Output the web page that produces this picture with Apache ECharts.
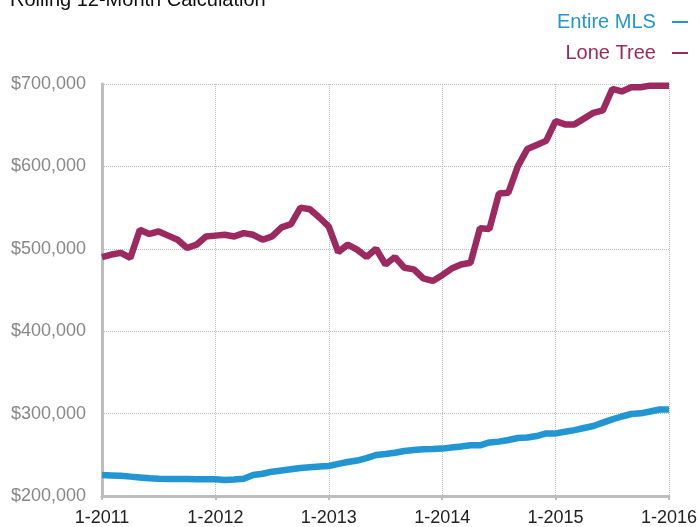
<!DOCTYPE html>
<html>
<head>
<meta charset="utf-8">
<script src="https://cdn.jsdelivr.net/npm/echarts@6/dist/echarts.min.js"></script>
<style>
  html, body { margin: 0; padding: 0; background: #fff; }
  #chart { width: 700px; height: 527px; }
</style>
</head>
<body>
<div id="chart"></div>
<script>
// Month labels Jan 2011 .. Jan 2016
const months = []
for (let y = 2011; y <= 2016; y++) {
  for (let m = 1; m <= 12; m++) {
    if (y === 2016 && m > 1) break
    months.push(m + '-' + y)
  }
}

const seriesNames = ['Entire MLS', 'Lone Tree']

// Rolling 12-month median price, Entire MLS
const entireMls = [
  225500, 225000, 224500, 223500, 222500, 221500, 220800, 220600, 220600, 220500, 220400, 220300,
  220300, 219500, 220000, 221000, 225500, 227000, 229500, 231000, 232500, 234000, 235000, 235800,
  236400, 239000, 241300, 243000, 246000, 249800, 251000, 252500, 254600, 255800, 256600, 257000,
  257500, 258800, 260000, 261500, 261500, 265000, 266000, 268000, 270400, 271000, 272800, 276000,
  276000, 278000, 280000, 282500, 285000, 289000, 293000, 296500, 299500, 300300, 302500, 305000,
  305000
]

// Rolling 12-month median price, Lone Tree
const loneTree = [
  490000, 493000, 495000, 489000, 523000, 518000, 521000, 516000, 511000, 501000, 505000, 515000,
  516000, 517000, 515000, 519000, 517000, 511000, 515000, 526000, 530000, 550000, 548000, 538000,
  527000, 496000, 505000, 499000, 490000, 500000, 481000, 490000, 477000, 475000, 464000, 461000,
  468000, 476000, 481000, 483000, 525000, 524000, 567000, 568000, 600000, 621000, 626000, 631000,
  655000, 651000, 651000, 658000, 665000, 668000, 694000, 691000, 696000, 696000, 698000, 698000,
  698000
]

const colors = ['#2196d3', '#9c2a60']
const font = '"Liberation Sans", Arial, Helvetica, sans-serif'

const chart = echarts.init(document.getElementById('chart'))

const option = {
  animation: false,
  textStyle: { fontFamily: font },
  title: {
    text: 'Rolling 12-Month Calculation',
    left: 10,
    top: -10,
    padding: 0,
    textStyle: {
      color: '#111',
      fontSize: 20,
      fontWeight: 'normal',
      fontFamily: font
    }
  },
  legend: {
    orient: 'vertical',
    right: 12,
    top: 12,
    padding: 0,
    align: 'right',
    itemGap: 11,
    itemWidth: 16,
    itemHeight: 2,
    icon: 'rect',
    formatter: name => name + '  ',
    textStyle: { fontSize: 20, fontFamily: font },
    data: seriesNames.map((n, i) => ({
      name: n,
      textStyle: { color: colors[i] }
    }))
  },
  grid: {
    left: 102,
    right: 28,
    top: 84,
    bottom: 31
  },
  xAxis: {
    type: 'category',
    data: months,
    boundaryGap: false,
    axisLine: {
      show: true,
      lineStyle: { color: '#bdbdbd', width: 3 }
    },
    axisTick: {
      show: true,
      interval: 11,
      length: 4,
      lineStyle: { color: '#bdbdbd', width: 2 }
    },
    axisLabel: {
      interval: 11,
      margin: 13,
      color: '#222',
      fontSize: 18,
      fontFamily: font
    },
    splitLine: {
      show: true,
      interval: 11,
      lineStyle: { color: '#bbbbbb', type: 'dotted', width: 1 }
    }
  },
  yAxis: {
    type: 'value',
    min: 200000,
    max: 700000,
    interval: 100000,
    axisLine: {
      show: true,
      lineStyle: { color: '#bdbdbd', width: 3 }
    },
    axisTick: { show: false },
    axisLabel: {
      margin: 16,
      color: '#888',
      fontSize: 18,
      fontFamily: font,
      formatter: v => '$' + v.toLocaleString('en-US')
    },
    splitLine: {
      show: true,
      lineStyle: { color: '#bbbbbb', type: 'dotted', width: 1 }
    }
  },
  series: [
    {
      name: seriesNames[0],
      type: 'line',
      data: entireMls,
      showSymbol: false,
      color: colors[0],
      lineStyle: { color: colors[0], width: 6.5 }
    },
    {
      name: seriesNames[1],
      type: 'line',
      data: loneTree,
      showSymbol: false,
      color: colors[1],
      lineStyle: { color: colors[1], width: 6.5 }
    }
  ]
}

chart.setOption(option)
</script>
</body>
</html>
